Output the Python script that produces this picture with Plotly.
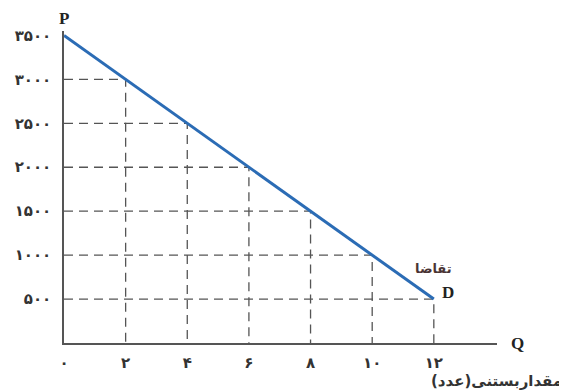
import plotly.graph_objects as go

# demand schedule
quantity = [0, 2, 4, 6, 8, 10, 12]
price = [3500, 3000, 2500, 2000, 1500, 1000, 500]

x_ticks = [0, 2, 4, 6, 8, 10, 12]
x_labels = ["۰", "۲", "۴", "۶", "۸", "۱۰", "۱۲"]
y_ticks = [500, 1000, 1500, 2000, 2500, 3000, 3500]
y_labels = ["۵۰۰", "۱۰۰۰", "۱۵۰۰", "۲۰۰۰", "۲۵۰۰", "۳۰۰۰", "۳۵۰۰"]

# dashed guide lines: from the P axis to the curve, then down to the Q axis
gx, gy = [], []
for q, p in zip(quantity[1:], price[1:]):
    gx += [0, q, q, None]
    gy += [p, p, 0, None]

fig = go.Figure()
fig.add_trace(go.Scatter(x=gx, y=gy, mode="lines", hoverinfo="skip",
                         line=dict(color="#555555", width=1.3, dash="9px,6px")))
fig.add_trace(go.Scatter(x=quantity, y=price, mode="lines",
                         line=dict(color="#2b6cb5", width=3)))

serif = dict(family="Liberation Serif", size=17, color="#222")
fig.add_annotation(x=0, y=3500, text="<b>P</b>", showarrow=False, yshift=17, font=serif)
fig.add_annotation(x=14.05, y=0, text="<b>Q</b>", showarrow=False, xanchor="left", xshift=12, font=serif)
fig.add_annotation(x=12, y=500, text="<b>D</b>", showarrow=False, xanchor="left", xshift=6, yshift=7, font=serif)
fig.add_annotation(x=12, y=850, text="<b>تقاضا</b>", showarrow=False, xanchor="center",
                   font=dict(family="DejaVu Sans", size=13, color="#4a3434"))
fig.add_annotation(x=1, y=0, xref="paper", yref="paper", text="<b>مقداربستنی(عدد)</b>", showarrow=False,
                   xanchor="right", yanchor="middle", xshift=67, yshift=-38,
                   font=dict(family="DejaVu Sans", size=15, color="#333"))

# page body adds an 8px offset, so the figure is sized to the visible area
fig.update_layout(
    width=559, height=383,
    margin=dict(l=56, r=70, t=23, b=48),
    plot_bgcolor="white", paper_bgcolor="white",
    showlegend=False,
    font=dict(family="DejaVu Sans", color="#333"),
)
fig.update_xaxes(range=[0, 14.05], showgrid=False, zeroline=False, showline=True, automargin=False,
                 linecolor="#555", linewidth=1.5, tickvals=x_ticks, ticktext=x_labels,
                 ticks="", ticklabelstandoff=5, tickfont=dict(size=15, color="#333", weight="bold"))
fig.update_yaxes(range=[0, 3550], showgrid=False, zeroline=False, showline=True, automargin=False,
                 linecolor="#555", linewidth=1.5, tickvals=y_ticks, ticktext=y_labels,
                 ticks="", ticklabelstandoff=8, tickfont=dict(size=15, color="#333", weight="bold"))

fig.write_html("out.html")
